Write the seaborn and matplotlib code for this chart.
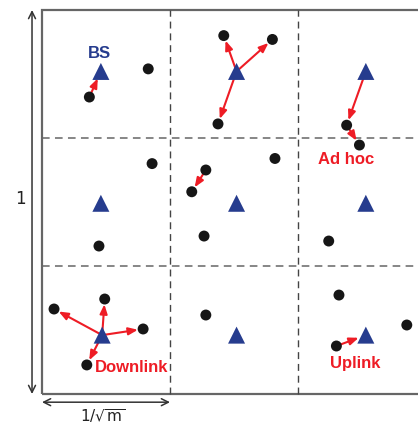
import matplotlib
matplotlib.use("Agg")
import matplotlib.pyplot as plt
import seaborn as sns
import pandas as pd
from matplotlib.patches import Rectangle

# ---- data (cell units: the unit square split into 3x3 cells) ----
bs_x = [0.46, 1.52, 2.53, 0.46, 1.52, 2.53, 0.47, 1.52, 2.53]
bs_y = [2.52, 2.52, 2.52, 1.49, 1.49, 1.49, 0.46, 0.46, 0.46]

node_x = [0.83, 0.37, 1.42, 1.80, 1.375, 2.38, 2.48, 0.86, 0.445, 1.28, 1.17,
          1.82, 1.266, 2.24, 0.094, 0.49, 0.79, 0.35, 1.28, 2.32, 2.85, 2.30]
node_y = [2.54, 2.32, 2.80, 2.77, 2.11, 2.10, 1.945, 1.80, 1.156, 1.75, 1.58,
          1.84, 1.234, 1.195, 0.664, 0.742, 0.508, 0.227, 0.617, 0.773, 0.539, 0.375]

# links: (from, to); "B#" = base station index, "N#" = node index
links = [("N1", "B0"),
         ("B1", "N2"), ("B1", "N3"), ("B1", "N4"),
         ("B2", "N5"), ("N5", "N6"),
         ("N9", "N10"),
         ("B6", "N14"), ("B6", "N15"), ("B6", "N16"), ("B6", "N17"),
         ("N21", "B8")]

grid_lines = [1, 2]
labels = ["BS", "Ad hoc", "Downlink", "Uplink"]
label_x = [0.45, 2.375, 0.70, 2.45]
label_y = [2.66, 1.83, 0.21, 0.24]
label_colors = ["#263c8e", "#ee1c25", "#ee1c25", "#ee1c25"]

# ---- figure ----
sns.set_theme(style="white")
W, H = 418, 425
fig = plt.figure(figsize=(W / 100, H / 100), dpi=100)
ax = fig.add_axes([0, 0, 1, 1])
ax.set_axis_off()
x0px, y0px, cell = 42, 394, 128
ax.set_xlim((0 - x0px) / cell, (W - x0px) / cell)
ax.set_ylim((y0px - H) / cell, y0px / cell)

blue = "#263c8e"
red = "#ee1c25"

# box and dashed grid
ax.add_patch(Rectangle((0, 0), 3, 3, fill=False, ec="#666666", lw=1.6, zorder=1))
for g in grid_lines:
    ax.plot([g, g], [0, 3], color="#444444", lw=1.0, dashes=(5, 3.5), zorder=1)
    ax.plot([0, 3], [g, g], color="#666666", lw=1.1, dashes=(5, 3.5), zorder=1)

# points
bs_df = pd.DataFrame({"x": bs_x, "y": bs_y})
node_df = pd.DataFrame({"x": node_x, "y": node_y})
sns.scatterplot(data=node_df, x="x", y="y", ax=ax, marker="o", s=62,
                color="#161616", edgecolor="none", zorder=4, legend=False)
sns.scatterplot(data=bs_df, x="x", y="y", ax=ax, marker="^", s=150,
                color=blue, edgecolor="none", zorder=5, legend=False)


def pos(key):
    i = int(key[1:])
    if key[0] == "B":
        return (bs_x[i], bs_y[i])
    return (node_x[i], node_y[i])


for a, b in links:
    ax.annotate("", xy=pos(b), xytext=pos(a),
                arrowprops=dict(arrowstyle="-|>,head_length=0.55,head_width=0.22",
                                color=red, lw=1.5, mutation_scale=10,
                                shrinkA=0 if a[0] == "B" else 3.5,
                                shrinkB=5.5 if b[0] == "B" else 3.8),
                zorder=3)

# labels
for t, lx, ly, c in zip(labels, label_x, label_y, label_colors):
    ax.text(lx, ly, t, color=c, fontsize=12, fontweight="bold",
            family=["Liberation Sans", "DejaVu Sans"],
            ha="center", va="center", zorder=6)

# dimension arrows
ax.annotate("", xy=(-0.078, 3.0), xytext=(-0.078, 0.0),
            arrowprops=dict(arrowstyle="<->,head_length=0.5,head_width=0.25",
                            color="#333333", lw=1.1, mutation_scale=10,
                            shrinkA=0, shrinkB=0))
ax.annotate("", xy=(1.0, -0.064), xytext=(0.0, -0.064),
            arrowprops=dict(arrowstyle="<->,head_length=0.5,head_width=0.25",
                            color="#333333", lw=1.1, mutation_scale=10,
                            shrinkA=0, shrinkB=0))
ax.text(-0.17, 1.52, "1", fontsize=12, color="#222222", ha="center", va="center")
ax.text(0.47, -0.175, r"1/$\sqrt{\mathrm{m}}$", fontsize=11, color="#222222",
        ha="center", va="center")

fig.savefig("out.png", dpi=100, facecolor="white")
